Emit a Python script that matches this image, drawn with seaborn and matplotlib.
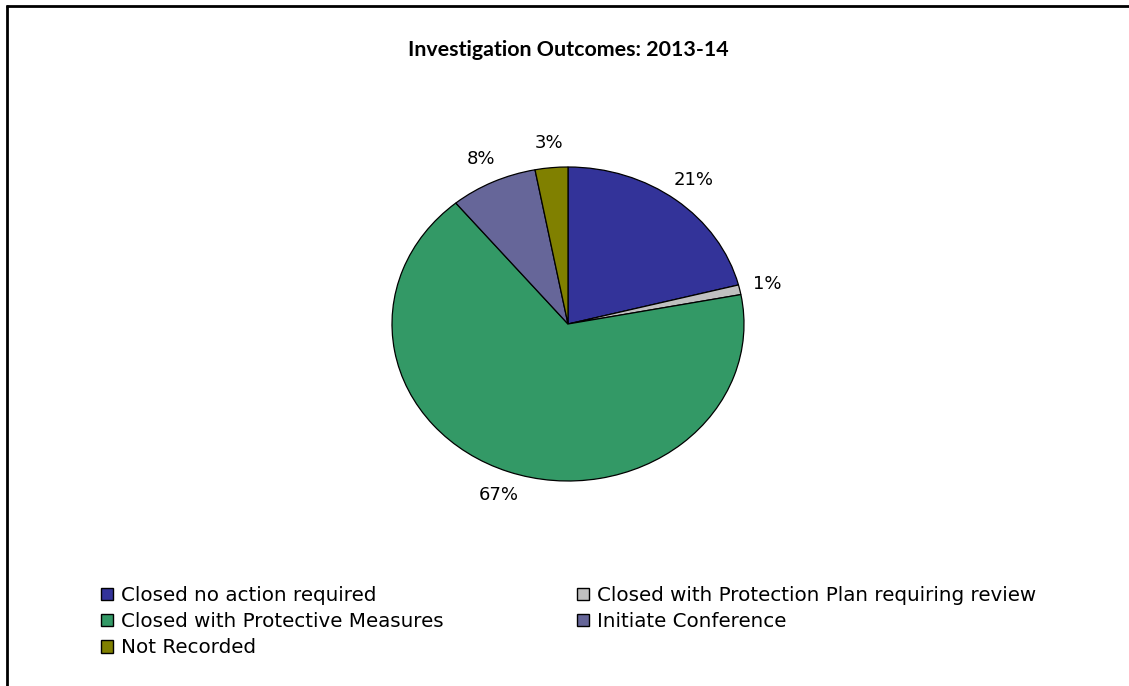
import matplotlib
matplotlib.use("Agg")
import matplotlib.pyplot as plt
from matplotlib.lines import Line2D
import seaborn as sns

# Investigation outcome shares (percent), drawn clockwise from 12 o'clock
categories = [
    "Closed no action required",
    "Closed with Protection Plan requiring review",
    "Closed with Protective Measures",
    "Initiate Conference",
    "Not Recorded",
]
shares = [21, 1, 67, 8, 3]
colors = ["#333399", "#C0C0C0", "#339966", "#666699", "#808000"]
title = "Investigation Outcomes: 2013-14"

sns.set_theme(style="white")
plt.rcParams["font.family"] = ["DejaVu Sans"]
plt.rcParams["text.color"] = "black"

W, H = 1129, 686
fig = plt.figure(figsize=(W / 100, H / 100), dpi=100)
fig.patch.set_facecolor("white")

# pie axes: slightly squashed ellipse (wider than tall)
cx, cy, rx, ry = 568, 324, 176, 157
ax = fig.add_axes([(cx - 2 * rx) / W, 1 - (cy + 1.5 * ry) / H, 4 * rx / W, 3 * ry / H])
wedges, texts, autotexts = ax.pie(
    shares,
    colors=colors,
    startangle=90,
    counterclock=False,
    autopct="%d%%",
    pctdistance=1.16,
    wedgeprops=dict(edgecolor="black", linewidth=0.9),
    textprops=dict(fontsize=13, color="black"),
)
ax.set_aspect("auto")
ax.set_xlim(-2, 2)
ax.set_ylim(-1.5, 1.5)
ax.axis("off")

fig.text(cx / W, 1 - 50 / H, title, ha="center", va="center", color="black",
         fontsize=15.4, fontweight="bold", family=["Lato", "DejaVu Sans"])

# legend laid out row by row in two columns
legend_kw = dict(loc="upper left", frameon=False, fontsize=14.3, borderpad=0,
                 handlelength=0.6, handleheight=0.6, handletextpad=0.4,
                 labelspacing=0.36, borderaxespad=0, labelcolor="black")
left_idx = [0, 2, 4]
right_idx = [1, 3]
leg1 = fig.legend([wedges[i] for i in left_idx], [categories[i] for i in left_idx],
                  bbox_to_anchor=(101 / W, 1 - 586 / H), **legend_kw)
leg2 = fig.legend([wedges[i] for i in right_idx], [categories[i] for i in right_idx],
                  bbox_to_anchor=(577 / W, 1 - 586 / H), **legend_kw)
for leg in (leg1, leg2):
    for h in leg.legend_handles:
        h.set_edgecolor("black")
        h.set_linewidth(1.0)

# chart frame: left and top edges
fig.add_artist(Line2D([7 / W, 7 / W], [0, 1 - 5 / H], transform=fig.transFigure,
                      color="black", linewidth=2.0, solid_capstyle="butt"))
fig.add_artist(Line2D([6 / W, 1.0], [1 - 5.5 / H, 1 - 5.5 / H], transform=fig.transFigure,
                      color="black", linewidth=2.0, solid_capstyle="butt"))

fig.savefig("out.png", dpi=100, facecolor="white")
